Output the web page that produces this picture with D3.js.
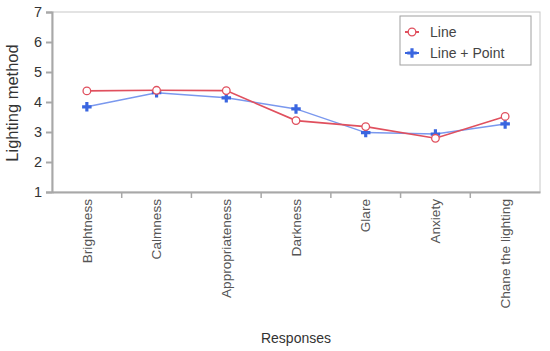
<!DOCTYPE html>
<html>
<head>
<meta charset="utf-8">
<script src="https://cdn.jsdelivr.net/npm/d3@7"></script>
<style>
  body { margin: 0; background: #fff; }
  text { font-family: "Liberation Sans", Arial, sans-serif; }
</style>
</head>
<body>
<div id="chart"></div>
<script>
const width = 550;
const height = 351;

const categories = ["Brightness", "Calmness", "Appropriateness", "Darkness", "Glare", "Anxiety", "Chane the lighting"];
const lineValues = [4.37, 4.39, 4.38, 3.38, 3.18, 2.79, 3.52];
const pointValues = [3.84, 4.31, 4.14, 3.77, 2.98, 2.93, 3.27];
const yTicks = [1, 2, 3, 4, 5, 6, 7];
const seriesNames = ["Line", "Line + Point"];

const margin = { left: 52, right: 10, top: 12, bottom: 159 };

const svg = d3.select("#chart")
  .append("svg")
  .attr("width", width)
  .attr("height", height);

const x = d3.scaleBand()
  .domain(categories)
  .range([margin.left, width - margin.right]);

const y = d3.scaleLinear()
  .domain([1, 7])
  .range([height - margin.bottom, margin.top]);

// frame
svg.append("rect")
  .attr("x", margin.left)
  .attr("y", margin.top)
  .attr("width", width - margin.right - margin.left)
  .attr("height", y(1) - margin.top)
  .attr("fill", "none")
  .attr("stroke", "#c8c8c8")
  .attr("stroke-width", 1);

const yAxis = svg.append("g")
  .attr("transform", "translate(" + margin.left + ",0)")
  .call(d3.axisLeft(y).tickValues(yTicks).tickSize(6).tickPadding(4).tickFormat(d3.format("d")));
yAxis.selectAll("path, line").attr("stroke", "#a8a8a8").attr("stroke-width", 2);
yAxis.selectAll("text").attr("font-size", 14.5).attr("fill", "#333")
  .attr("font-family", "'Open Sans', sans-serif");

const xAxis = svg.append("g")
  .attr("transform", "translate(0," + y(1) + ")")
  .call(d3.axisBottom(x).tickSize(0).tickPadding(6));
xAxis.select("path").attr("stroke", "#a8a8a8").attr("stroke-width", 2);
xAxis.selectAll("text")
  .attr("font-size", 13.6)
  .attr("fill", "#555")
  .attr("transform", "rotate(-90)")
  .attr("text-anchor", "end")
  .attr("dy", "0.35em")
  .attr("x", -7)
  .attr("y", 0);

// boundary ticks between categories
svg.append("g")
  .selectAll("line")
  .data(categories.slice(1))
  .join("line")
  .attr("x1", d => x(d))
  .attr("x2", d => x(d))
  .attr("y1", y(1))
  .attr("y2", y(1) + 6)
  .attr("stroke", "#a8a8a8")
  .attr("stroke-width", 1.5);

const cx = d => x(d) + x.bandwidth() / 2;

const line = d3.line()
  .x((d, i) => cx(categories[i]))
  .y(d => y(d));

// blue series
svg.append("path")
  .datum(pointValues)
  .attr("d", line)
  .attr("fill", "none")
  .attr("stroke", "#7a98ee")
  .attr("stroke-width", 1.5);

const plus = d3.symbol().type(d3.symbolCross).size(50);
svg.append("g")
  .selectAll("path")
  .data(pointValues)
  .join("path")
  .attr("d", plus)
  .attr("transform", (d, i) => "translate(" + cx(categories[i]) + "," + y(d) + ")")
  .attr("fill", "#3a66e0");

// red series
svg.append("path")
  .datum(lineValues)
  .attr("d", line)
  .attr("fill", "none")
  .attr("stroke", "#e0505e")
  .attr("stroke-width", 1.6);

svg.append("g")
  .selectAll("circle")
  .data(lineValues)
  .join("circle")
  .attr("cx", (d, i) => cx(categories[i]))
  .attr("cy", d => y(d))
  .attr("r", 3.8)
  .attr("fill", "#fff")
  .attr("stroke", "#e0505e")
  .attr("stroke-width", 1.3);

// axis titles
svg.append("text")
  .attr("transform", "translate(18," + (y(4) + 1) + ") rotate(-90)")
  .attr("text-anchor", "middle")
  .attr("font-size", 16.5)
  .attr("fill", "#333")
  .attr("font-family", "'Open Sans', sans-serif")
  .text("Lighting method");

svg.append("text")
  .attr("x", 296)
  .attr("y", 343)
  .attr("text-anchor", "middle")
  .attr("font-size", 14)
  .attr("fill", "#333")
  .attr("font-family", "'Open Sans', sans-serif")
  .text("Responses");

// legend
const legend = svg.append("g").attr("transform", "translate(400,16)");
legend.append("rect")
  .attr("width", 131)
  .attr("height", 49)
  .attr("fill", "#fff")
  .attr("stroke", "#a0a0a0");

const rows = legend.selectAll("g.row")
  .data(seriesNames)
  .join("g")
  .attr("class", "row")
  .attr("transform", (d, i) => "translate(12," + (16 + i * 21) + ")");

rows.append("line")
  .attr("x1", -7).attr("x2", 7)
  .attr("stroke", (d, i) => i === 0 ? "#e0505e" : "#3a66e0")
  .attr("stroke-width", 2);

rows.filter((d, i) => i === 0).append("circle")
  .attr("r", 3.8)
  .attr("fill", "#fff")
  .attr("stroke", "#e0505e")
  .attr("stroke-width", 1.3);

rows.filter((d, i) => i === 1).append("path")
  .attr("d", plus)
  .attr("fill", "#3a66e0");

rows.append("text")
  .attr("x", 18)
  .attr("dy", "0.35em")
  .attr("font-size", 14)
  .attr("fill", "#444")
  .text(d => d);
</script>
</body>
</html>
